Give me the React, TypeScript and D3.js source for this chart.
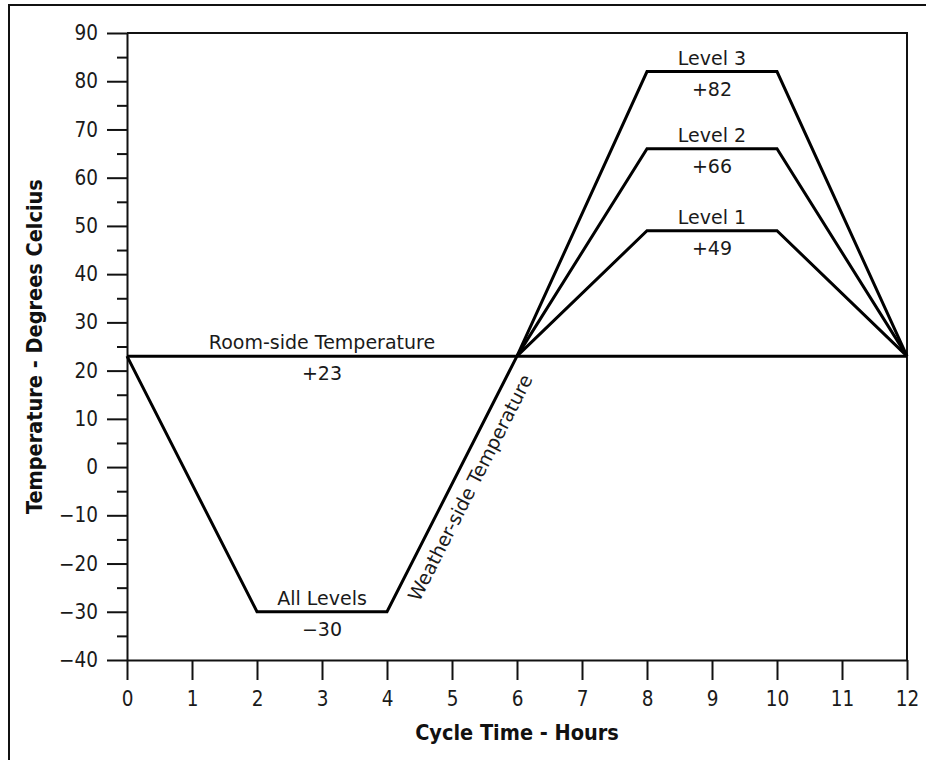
import React, { useEffect, useRef } from 'react';
import * as d3 from 'd3';

// cycle data
const hours = [0, 2, 4, 6, 8, 10, 12];
const roomSide = [[0, 23], [12, 23]];
const weatherCold = [[0, 23], [2, -30], [4, -30], [6, 23]];
const levelNames = ['Level 1', 'Level 2', 'Level 3'];
const levelPeaks = [49, 66, 82];
const xTicks = d3.range(0, 13);
const yMajor = d3.range(-40, 91, 10);
const yMinor = d3.range(-35, 90, 10);

const W = 926, H = 760;
const margin = { top: 33, right: 19, bottom: 100, left: 127 };
const FONT = '"DejaVu Sans Condensed", "DejaVu Sans", sans-serif';
const LFONT = '"DejaVu Sans", sans-serif';

export default function App() {
  const ref = useRef<SVGSVGElement>(null);

  useEffect(() => {
    const svg = d3.select(ref.current);
    svg.selectAll('*').remove();
    const width = W - margin.left - margin.right;
    const height = H - margin.top - margin.bottom;

    const x = d3.scaleLinear().domain([0, 12]).range([0, width]);
    const y = d3.scaleLinear().domain([-40, 90]).range([height, 0]);

    // outer frame
    svg.append('rect')
      .attr('x', 9).attr('y', 5).attr('width', 940).attr('height', 800)
      .attr('fill', 'none').attr('stroke', '#111').attr('stroke-width', 2);

    const g = svg.append('g').attr('transform', `translate(${margin.left},${margin.top})`);

    // plot box top/right
    g.append('path')
      .attr('d', `M0,0H${width}V${height}`)
      .attr('fill', 'none').attr('stroke', '#111').attr('stroke-width', 2);

    // y axis minor ticks
    g.append('g')
      .call(d3.axisLeft(y).tickValues(yMinor).tickSize(10).tickFormat(() => ''))
      .call(a => a.select('.domain').remove())
      .selectAll('line').attr('stroke', '#111').attr('stroke-width', 2);

    const yAxis = g.append('g')
      .call(d3.axisLeft(y).tickValues(yMajor).tickSize(20).tickPadding(9).tickSizeOuter(0));
    yAxis.select('.domain').attr('stroke', '#111').attr('stroke-width', 2);
    yAxis.selectAll('line').attr('stroke', '#111').attr('stroke-width', 2);
    yAxis.selectAll('text').attr('fill', '#1a1a1a')
      .style('font-family', FONT).style('font-size', '20.5px');

    const xAxis = g.append('g')
      .attr('transform', `translate(0,${height})`)
      .call(d3.axisBottom(x).tickValues(xTicks).tickSize(20).tickPadding(11).tickSizeOuter(0));
    xAxis.select('.domain').attr('stroke', '#111').attr('stroke-width', 2);
    xAxis.selectAll('line').attr('stroke', '#111').attr('stroke-width', 2);
    xAxis.selectAll('text').attr('fill', '#1a1a1a')
      .style('font-family', FONT).style('font-size', '20.5px');

    const line = d3.line<number[]>().x(d => x(d[0])).y(d => y(d[1]));

    const lines = [roomSide, weatherCold,
      ...levelPeaks.map(p => [[hours[3], 23], [hours[4], p], [hours[5], p], [hours[6], 23]])];

    g.selectAll('.series').data(lines).join('path')
      .attr('class', 'series')
      .attr('d', d => line(d))
      .attr('fill', 'none').attr('stroke', '#000').attr('stroke-width', 3)
      .attr('stroke-linejoin', 'miter');

    const label = (tx: number, ty: number, s: string) =>
      g.append('text').attr('x', tx).attr('y', ty).attr('text-anchor', 'middle')
        .attr('fill', '#1a1a1a').style('font-family', LFONT).style('font-size', '19px').text(s);

    label(x(3), y(23) - 7, 'Room-side Temperature');
    label(x(3), y(23) + 24, '+23');
    label(x(3), y(-30) - 7, 'All Levels');
    label(x(3), y(-30) + 24, '\u221230');
    levelPeaks.forEach((p, i) => {
      label(x(9), y(p) - 7, levelNames[i]);
      label(x(9), y(p) + 24, '+' + p);
    });

    // rotated label along the rising leg
    const x0 = x(4), y0 = y(-30), x1 = x(6), y1 = y(23);
    const ang = Math.atan2(y1 - y0, x1 - x0);
    const len = Math.hypot(x1 - x0, y1 - y0);
    const ux = (x1 - x0) / len, uy = (y1 - y0) / len;
    const cx = (x0 + x1) / 2 + (-uy) * 18 + ux * 5;
    const cy = (y0 + y1) / 2 + ux * 18 + uy * 5;
    g.append('text')
      .attr('transform', `translate(${cx},${cy}) rotate(${ang * 180 / Math.PI})`)
      .attr('text-anchor', 'middle').attr('dy', '0.35em')
      .attr('fill', '#1a1a1a').style('font-family', LFONT).style('font-size', '19px')
      .text('Weather-side Temperature');

    // axis titles
    g.append('text')
      .attr('x', width / 2).attr('y', height + 80)
      .attr('text-anchor', 'middle').attr('fill', '#111')
      .style('font-family', FONT).style('font-size', '21.5px').style('font-weight', 'bold')
      .text('Cycle Time - Hours');

    g.append('text')
      .attr('transform', `translate(${-margin.left + 42},${height / 2}) rotate(-90)`)
      .attr('text-anchor', 'middle').attr('fill', '#111')
      .style('font-family', FONT).style('font-size', '21.5px').style('font-weight', 'bold')
      .text('Temperature - Degrees Celcius');
  }, []);

  return (
    <svg ref={ref} width={W} height={H}
      style={{ position: 'absolute', left: 0, top: 0, background: '#fff' }} />
  );
}
